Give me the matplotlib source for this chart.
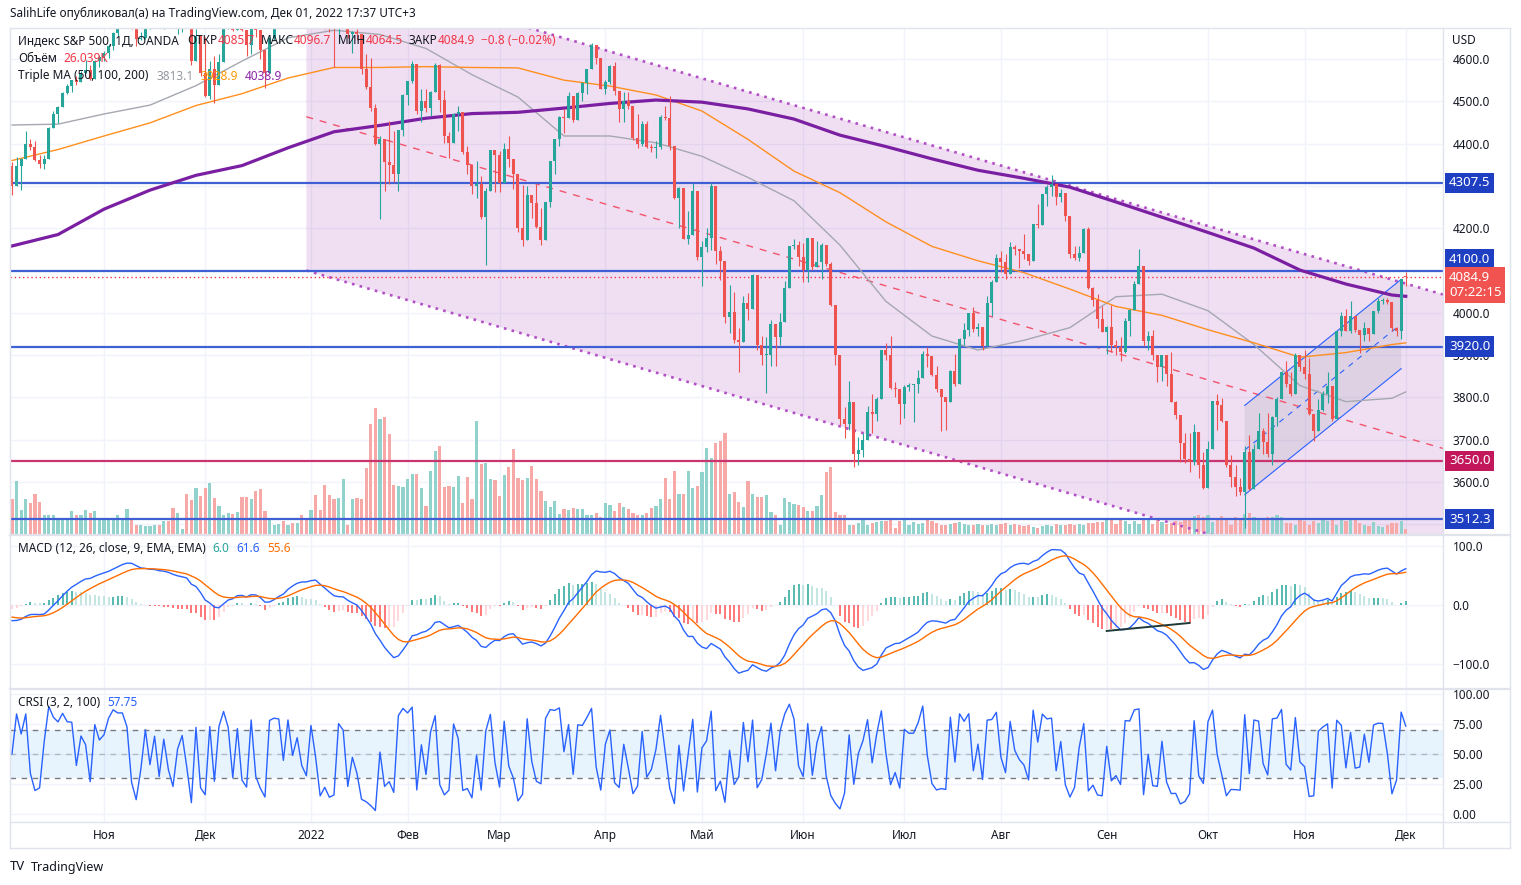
import numpy as np
import pandas as pd
import matplotlib
matplotlib.use("Agg")
import matplotlib.pyplot as plt
from matplotlib.collections import PatchCollection
from matplotlib.patches import Rectangle, Polygon
from matplotlib.lines import Line2D
from matplotlib.ticker import FuncFormatter
from matplotlib.transforms import blended_transform_factory

plt.rcParams['font.family'] = ['Noto Sans', 'DejaVu Sans']

W, H = 1521, 885

# S&P 500 (OANDA CFD), daily bars 2021-10-04 .. 2022-12-01, one line per month
closes = [
    4300, 4346, 4364, 4400, 4391, 4361, 4351, 4364, 4438, 4471, 4487, 4520, 4536, 4550, 4545, 4567, 4575, 4552, 4596, 4605,
    4614, 4631, 4661, 4680, 4698, 4702, 4685, 4647, 4649, 4683, 4683, 4701, 4689, 4705, 4698, 4683, 4691, 4702, 4700, 4595, 4655, 4567,
    4513, 4577, 4538, 4592, 4687, 4701, 4668, 4712, 4669, 4634, 4710, 4669, 4621, 4568, 4649, 4697, 4726, 4725, 4791, 4786, 4793, 4779, 4766,
    4797, 4794, 4701, 4696, 4677, 4670, 4713, 4726, 4659, 4663, 4660, 4577, 4533, 4483, 4398, 4410, 4357, 4350, 4327, 4432, 4516,
    4547, 4589, 4477, 4500, 4484, 4522, 4587, 4504, 4419, 4402, 4471, 4475, 4380, 4349, 4300, 4305, 4226, 4289, 4385, 4374,
    4306, 4387, 4364, 4329, 4201, 4171, 4278, 4260, 4204, 4173, 4263, 4358, 4412, 4463, 4461, 4512, 4456, 4520, 4543, 4576, 4632, 4603, 4530,
    4546, 4583, 4525, 4481, 4500, 4488, 4413, 4398, 4447, 4393, 4390, 4392, 4462, 4460, 4394, 4272, 4296, 4175, 4184, 4288, 4132,
    4155, 4176, 4300, 4147, 4123, 3991, 4001, 3935, 3930, 4024, 4008, 4089, 3924, 3901, 3901, 3974, 3942, 3979, 4058, 4158, 4160, 4132,
    4101, 4177, 4109, 4121, 4161, 4116, 4018, 3901, 3750, 3736, 3790, 3667, 3675, 3700, 3765, 3760, 3796, 3912, 3900, 3822, 3819, 3785,
    3825, 3830, 3831, 3845, 3903, 3899, 3854, 3819, 3802, 3790, 3863, 3831, 3937, 3960, 3999, 3962, 3967, 3921, 4024, 4072, 4130,
    4119, 4091, 4155, 4152, 4145, 4140, 4123, 4210, 4207, 4280, 4297, 4305, 4274, 4284, 4228, 4138, 4129, 4141, 4199, 4058, 4031, 3986, 3955,
    3967, 3924, 3920, 3908, 3980, 4006, 4067, 4110, 3933, 3946, 3901, 3873, 3900, 3856, 3790, 3758, 3693, 3655, 3647, 3719, 3641, 3586,
    3678, 3791, 3783, 3745, 3640, 3612, 3589, 3577, 3670, 3583, 3678, 3720, 3695, 3666, 3753, 3797, 3859, 3831, 3807, 3901, 3872,
    3856, 3760, 3720, 3771, 3807, 3828, 3749, 3956, 3993, 3957, 3992, 3959, 3947, 3965, 3950, 4004, 4027, 4030, 4026, 3964, 3958, 4080,
    4084.9,
]
highs = [
    4356, 4369, 4365, 4429, 4412, 4407, 4374, 4372, 4440, 4476, 4488, 4521, 4540, 4551, 4560, 4572, 4598, 4585, 4598, 4609,
    4620, 4636, 4664, 4683, 4718, 4714, 4708, 4685, 4664, 4684, 4698, 4714, 4705, 4708, 4717, 4744, 4697, 4702, 4705, 4660, 4672, 4647,
    4652, 4595, 4608, 4612, 4695, 4705, 4705, 4713, 4710, 4660, 4712, 4743, 4665, 4582, 4651, 4698, 4741, 4730, 4792, 4808, 4805, 4808, 4787,
    4797, 4819, 4797, 4725, 4707, 4673, 4714, 4749, 4744, 4666, 4670, 4611, 4611, 4602, 4494, 4418, 4412, 4454, 4429, 4432, 4517,
    4547, 4595, 4542, 4529, 4528, 4524, 4591, 4588, 4527, 4427, 4473, 4490, 4462, 4394, 4350, 4358, 4324, 4295, 4386, 4385,
    4382, 4401, 4417, 4353, 4325, 4301, 4299, 4275, 4304, 4247, 4263, 4359, 4412, 4465, 4482, 4521, 4500, 4521, 4546, 4576, 4637, 4628, 4603,
    4550, 4587, 4593, 4503, 4521, 4521, 4464, 4471, 4453, 4453, 4400, 4406, 4468, 4489, 4512, 4386, 4298, 4278, 4240, 4308, 4270,
    4169, 4200, 4307, 4271, 4158, 4082, 4066, 4049, 3964, 4039, 4047, 4091, 4062, 3945, 3943, 3982, 3955, 3999, 4076, 4158, 4175, 4169,
    4166, 4177, 4143, 4169, 4164, 4150, 4119, 3975, 3838, 3778, 3838, 3733, 3707, 3716, 3780, 3808, 3802, 3913, 3928, 3946, 3836, 3818,
    3829, 3835, 3832, 3864, 3910, 3919, 3878, 3874, 3817, 3796, 3864, 3903, 3940, 3975, 4000, 4013, 3975, 3954, 4039, 4078, 4140,
    4145, 4140, 4167, 4161, 4151, 4186, 4138, 4211, 4257, 4280, 4301, 4325, 4303, 4292, 4258, 4195, 4159, 4157, 4200, 4204, 4062, 4044, 4015,
    3970, 4019, 3935, 3942, 3987, 4010, 4076, 4150, 4062, 3956, 3959, 3880, 3901, 3878, 3907, 3791, 3727, 3716, 3716, 3736, 3688, 3672,
    3698, 3791, 3807, 3798, 3710, 3665, 3641, 3609, 3685, 3712, 3689, 3762, 3728, 3762, 3755, 3800, 3862, 3886, 3860, 3905, 3893,
    3911, 3894, 3750, 3796, 3814, 3859, 3818, 3956, 4002, 4009, 4028, 3983, 3954, 3979, 3962, 4005, 4034, 4036, 4035, 4012, 3966, 4080,
    4096.7,
]
lows = [
    4278, 4304, 4290, 4364, 4386, 4360, 4343, 4339, 4368, 4440, 4448, 4490, 4518, 4521, 4538, 4547, 4569, 4551, 4563, 4581,
    4595, 4603, 4621, 4654, 4681, 4694, 4670, 4630, 4646, 4648, 4672, 4680, 4685, 4672, 4690, 4680, 4659, 4664, 4690, 4586, 4625, 4560,
    4510, 4505, 4495, 4541, 4620, 4671, 4666, 4670, 4667, 4606, 4611, 4651, 4600, 4531, 4583, 4645, 4700, 4720, 4733, 4780, 4778, 4775, 4765,
    4759, 4774, 4699, 4671, 4663, 4582, 4638, 4716, 4650, 4614, 4645, 4565, 4530, 4477, 4396, 4222, 4287, 4305, 4310, 4288, 4419,
    4492, 4544, 4470, 4452, 4474, 4466, 4547, 4475, 4402, 4365, 4429, 4429, 4376, 4328, 4280, 4271, 4222, 4114, 4287, 4286,
    4286, 4306, 4345, 4293, 4190, 4157, 4223, 4224, 4201, 4161, 4190, 4251, 4329, 4394, 4425, 4466, 4452, 4465, 4501, 4517, 4589, 4588, 4530,
    4517, 4540, 4514, 4450, 4451, 4481, 4408, 4390, 4395, 4390, 4380, 4367, 4387, 4455, 4385, 4268, 4200, 4175, 4162, 4188, 4125,
    4063, 4144, 4148, 4116, 4077, 3975, 3952, 3928, 3859, 3940, 3984, 4033, 3911, 3877, 3810, 3875, 3875, 3925, 3985, 4077, 4150, 4110,
    4074, 4074, 4101, 4110, 4080, 4110, 4017, 3876, 3734, 3705, 3723, 3636, 3640, 3660, 3700, 3717, 3744, 3800, 3889, 3820, 3800, 3738,
    3752, 3815, 3742, 3810, 3849, 3873, 3850, 3813, 3721, 3722, 3817, 3826, 3860, 3924, 3946, 3955, 3944, 3911, 3941, 3992, 4080,
    4097, 4079, 4108, 4136, 4107, 4128, 4112, 4177, 4201, 4219, 4253, 4277, 4254, 4262, 4218, 4129, 4124, 4122, 4147, 4057, 4017, 3965, 3954,
    3903, 3907, 3900, 3886, 3906, 3944, 4023, 4083, 3921, 3913, 3888, 3837, 3839, 3828, 3789, 3750, 3647, 3645, 3624, 3640, 3610, 3584,
    3587, 3694, 3723, 3742, 3636, 3589, 3568, 3570, 3491, 3580, 3644, 3687, 3667, 3659, 3640, 3733, 3799, 3824, 3803, 3808, 3863,
    3843, 3758, 3698, 3721, 3767, 3787, 3745, 3749, 3944, 3956, 3953, 3955, 3906, 3933, 3933, 3956, 3999, 4022, 4020, 3956, 3944, 3938,
    4064.5,
]
first_open = 4348
last_open = 4085.7

# volume, thousands
volumes = [
    175, 265, 120, 175, 155, 200, 160, 95, 95, 95, 75, 75, 80, 115, 95, 95, 120, 105, 115, 80,
    80, 75, 75, 95, 80, 125, 80, 45, 45, 40, 40, 45, 45, 65, 65, 130, 105, 25, 200, 170,
    230, 190, 230, 255, 180, 140, 95, 105, 100, 110, 185, 185,
    175, 215, 225, 115, 80, 45, 50, 65, 45, 55, 55, 95, 75, 120, 195, 120, 245, 195, 175, 180,
    275, 45, 175, 180, 175, 330, 550, 630, 575, 585, 500, 245, 240, 235, 275, 300, 300, 230, 140, 315,
    415, 440, 235, 240, 235, 290, 155, 285, 175, 565, 350,
    355, 275, 270, 190, 295, 335, 425, 280, 270, 280, 340, 275, 215, 165, 135, 165, 100, 125, 120, 130,
    125, 125, 95, 95, 105, 85, 155, 145, 115, 155, 135, 125, 105, 95, 95, 105, 130, 140, 175, 280,
    175, 315, 200, 200, 315, 230, 240, 310, 430, 380, 455, 465,
    505, 200, 210, 160, 135, 265, 200, 185, 185, 195, 110, 95, 45, 180, 160, 150, 145, 135, 115, 115,
    140, 195, 310, 335, 110, 95, 95, 45, 45, 55, 75, 45, 55, 60, 65, 65, 75, 30, 65, 75,
    45, 60, 50, 55, 75, 65, 55, 45, 45, 50, 55, 60,
    50, 45, 45, 50, 45, 45, 50, 45, 50, 55, 45, 50, 45, 40, 45, 35, 30, 40, 45, 40,
    50, 45, 45, 50, 45, 50, 45, 55, 55, 60, 60, 75, 70, 50, 70, 65, 50, 65, 50, 75,
    70, 50, 70, 60, 50, 55, 65, 60, 80, 75, 90, 95,
    85, 95, 60, 75, 90, 70, 45, 85, 75, 100, 105, 85, 75, 75, 85, 85, 95, 85, 55, 55,
    45, 75, 65, 45, 65, 55, 70, 65, 75, 45, 75, 65, 75, 70, 55, 45, 40, 60, 40, 35,
    45, 55, 55, 65, 26,
]

# Triple MA every 10th session (and the last one)
ma_sessions = list(range(0, 301, 10)) + [303]
ma50 = [4444, 4446, 4470, 4491, 4537, 4595, 4650, 4668, 4658, 4625, 4563, 4510, 4418, 4418, 4402, 4370,
        4320, 4265, 4160, 4027, 3945, 3912, 3935, 3965, 4038, 4044, 4005, 3925, 3828, 3790, 3798, 3813]
ma100 = [4360, 4386, 4418, 4449, 4490, 4518, 4555, 4580, 4580, 4582, 4580, 4579, 4550, 4536, 4515, 4477,
         4410, 4335, 4284, 4215, 4157, 4123, 4095, 4056, 4015, 3994, 3960, 3929, 3895, 3906, 3925, 3929]
ma200 = [4158, 4185, 4245, 4290, 4325, 4348, 4390, 4428, 4443, 4460, 4471, 4474, 4484, 4495, 4503, 4498,
         4482, 4458, 4420, 4393, 4364, 4337, 4318, 4297, 4262, 4226, 4190, 4153, 4101, 4068, 4042, 4039]

levels_blue = [4307.5, 4100.0, 3920.0, 3512.3]
level_red = 3650.0
# scale labels TradingView hides behind the level tags
hidden_ticks = [3500, 4100, 4300]

chan_dates = ['2021-12-31', '2022-12-01']
chan_upper = [4827, 4069]
chan_lower = [4100, 3341]

small_dates = ['2022-10-13', '2022-11-30']
small_upper = [3781, 4079]
small_lower = [3570, 3868]

macd_line_dates = ['2022-09-01', '2022-09-27']
macd_line_vals = [-44, -30.5]
ema26_seed, macd_seed, signal_seed = 4400, -22, -19

month_keys = ['2021-11', '2021-12', '2022-01', '2022-02', '2022-03', '2022-04', '2022-05',
              '2022-06', '2022-07', '2022-08', '2022-09', '2022-10', '2022-11', '2022-12']
month_labels = ['Ноя', 'Дек', '2022', 'Фев', 'Мар', 'Апр', 'Май', 'Июн', 'Июл', 'Авг',
                'Сен', 'Окт', 'Ноя', 'Дек']

assert len(closes) == len(highs) == len(lows) == len(volumes), (len(closes), len(highs), len(lows), len(volumes))

# ---- derived series ----
n = len(closes)
dates = pd.bdate_range(end='2022-12-01', periods=n)
pos = {d.strftime('%Y-%m-%d'): i for i, d in enumerate(dates)}
ym = [d.strftime('%Y-%m') for d in dates]
month_idx = [ym.index(k) for k in month_keys]

x = np.arange(n)
c = np.array(closes, float)
o = np.r_[first_open, c[:-1]]
o[-1] = last_open
hi = np.maximum(np.array(highs, float), np.maximum(o, c))
lo = np.minimum(np.array(lows, float), np.minimum(o, c))
up = c >= o


def ema(vals, length, seed):
    k = 2.0 / (length + 1)
    out = np.empty(len(vals))
    prev = seed
    for i, v in enumerate(vals):
        prev = prev + k * (v - prev)
        out[i] = prev
    return out


def rma(vals, length):
    out = np.empty(len(vals))
    prev = vals[0]
    for i, v in enumerate(vals):
        prev = prev + (v - prev) / length
        out[i] = prev
    return out


def rsi(vals, length):
    d = np.diff(vals, prepend=vals[0])
    au = rma(np.maximum(d, 0), length)
    ad = rma(np.maximum(-d, 0), length)
    tot = au + ad
    return np.where(tot == 0, 50.0, 100.0 * au / np.where(tot == 0, 1, tot))


macd = ema(c, 12, ema26_seed + macd_seed) - ema(c, 26, ema26_seed)
signal = ema(macd, 9, signal_seed)
hist = macd - signal

streak = np.zeros(n)
for i in range(1, n):
    if c[i] > c[i - 1]:
        streak[i] = streak[i - 1] + 1 if streak[i - 1] > 0 else 1
    elif c[i] < c[i - 1]:
        streak[i] = streak[i - 1] - 1 if streak[i - 1] < 0 else -1
roc = np.r_[0, np.diff(c) / c[:-1] * 100]
prank = np.full(n, 50.0)
for i in range(2, n):
    win = roc[max(1, i - 100):i]
    prank[i] = 100.0 * np.sum(win <= roc[i]) / len(win)
crsi = (rsi(c, 3) + rsi(streak, 2) + prank) / 3

# ---- figure ----
UP, DN = '#26a69a', '#ef5350'
GRID = '#f0f3fa'
BORDER = '#e0e3eb'
TXT = '#131722'
XMIN, XMAX = -0.43, 311.1

fig = plt.figure(figsize=(W / 100, H / 100), dpi=100)
fig.patch.set_facecolor('white')


def rect(x0, y0, x1, y1):
    return [x0 / W, 1 - y1 / H, (x1 - x0) / W, (y1 - y0) / H]


ax = fig.add_axes(rect(10, 28, 1443, 534))
ax_macd = fig.add_axes(rect(10, 536, 1443, 688))
ax_rsi = fig.add_axes(rect(10, 690, 1443, 822))

for a in (ax, ax_macd, ax_rsi):
    a.set_xlim(XMIN, XMAX)
    a.yaxis.tick_right()
    a.tick_params(axis='y', length=0, pad=7, labelsize=8.5, labelcolor=TXT)
    a.tick_params(axis='x', length=0)
    a.set_xticks(month_idx)
    a.grid(True, color=GRID, lw=1)
    a.set_axisbelow(True)
    for s in a.spines.values():
        s.set_visible(False)
ax.set_xticklabels([])
ax_macd.set_xticklabels([])

# main pane
ax.set_ylim(3477.1, 4673.3)
ax.set_yticks(np.arange(3500, 4700, 100))
ax.yaxis.set_major_formatter(FuncFormatter(
    lambda v, p: '' if round(v) in hidden_ticks else f'{v:.1f}'))

vtrans = blended_transform_factory(ax.transData, ax.transAxes)
vbars = [Rectangle((xi - 0.35, 0), 0.7, v / 2525) for xi, v in zip(x, volumes)]
ax.add_collection(PatchCollection(vbars, facecolors=np.where(up, '#92d2cc', '#f7a9a7'),
                                  edgecolors='none', transform=vtrans, zorder=1))

i0, i1 = pos[chan_dates[0]], pos[chan_dates[1]]


def extend(p0, p1):
    return p0, p1 + (p1 - p0) / (i1 - i0) * (XMAX - i1)


u0, u1 = extend(*chan_upper)
l0, l1 = extend(*chan_lower)
ax.add_patch(Polygon([[i0, u0], [XMAX, u1], [XMAX, l1], [i0, l0]], closed=True,
                     fc='#9c27b0', alpha=0.15, ec='none', zorder=0.9))
for p0, p1 in ((u0, u1), (l0, l1)):
    ax.plot([i0, XMAX], [p0, p1], ls=(0, (1, 2)), color='#b34fc6', lw=1.9, zorder=2)
ax.plot([i0, XMAX], [(u0 + l0) / 2, (u1 + l1) / 2], ls=(0, (5, 5)), color='#f2546c', lw=1, zorder=2)

j0, j1 = pos[small_dates[0]], pos[small_dates[1]]
ax.add_patch(Polygon([[j0, small_upper[0]], [j1, small_upper[1]], [j1, small_lower[1]], [j0, small_lower[0]]],
                     closed=True, fc='#9598a1', alpha=0.18, ec='none', zorder=1.1))
ax.plot([j0, j1], small_upper, color='#2962ff', lw=0.8, zorder=2)
ax.plot([j0, j1], small_lower, color='#2962ff', lw=0.8, zorder=2)
ax.plot([j0, j1], [(small_upper[0] + small_lower[0]) / 2, (small_upper[1] + small_lower[1]) / 2],
        color='#2962ff', lw=0.8, ls=(0, (5, 5)), zorder=2)

for lv in levels_blue:
    ax.axhline(lv, color='#3f5fd5', lw=1.6, zorder=2.2)
ax.axhline(level_red, color='#c8356f', lw=1.6, zorder=2.2)
ax.axhline(c[-1], color='#f23645', lw=1, ls=(0, (1, 2)), zorder=2.2)

ax.plot(ma_sessions, ma50, color='#a5a8b0', lw=1, zorder=2.5)
ax.plot(ma_sessions, ma100, color='#ff8f1f', lw=1, zorder=2.5)
ax.plot(ma_sessions, ma200, color='#7b1fa2', lw=2.3, zorder=2.5)

col = np.where(up, UP, DN)
ax.vlines(x, lo, hi, colors=col, lw=0.8, zorder=3)
bodies = [Rectangle((xi - 0.33, min(oi, ci)), 0.66, max(abs(ci - oi), 2.4)) for xi, oi, ci in zip(x, o, c)]
ax.add_collection(PatchCollection(bodies, facecolors=col, edgecolors='none', zorder=4))


def tag(axis, val, txt, fc, dy=0, va='center'):
    axis.annotate(txt, xy=(1.0, val), xycoords=blended_transform_factory(axis.transAxes, axis.transData),
                  xytext=(6, dy), textcoords='offset pixels', ha='left', va=va, color='white',
                  fontsize=9.5, fontweight='bold', linespacing=1.2, annotation_clip=False, zorder=20,
                  bbox=dict(boxstyle='square,pad=0.28', fc=fc, ec='none'))


# the 4100 tag is pushed up by TradingView so it clears the live price tag
tag_shift = {4100.0: 11}
for lv in levels_blue:
    tag(ax, lv, f'{lv:.1f}', '#1f3fc2', dy=tag_shift.get(lv, 0))
tag(ax, level_red, f'{level_red:.1f}', '#c2185b')
tag(ax, c[-1], f'{c[-1]:.1f}\n07:22:15', '#f05350', dy=6, va='top')

# MACD pane
ax_macd.set_ylim(-140.7, 116.9)
ax_macd.set_yticks([-100, 0, 100])
ax_macd.yaxis.set_major_formatter(FuncFormatter(lambda v, p: f'{v:.1f}'.replace('-', '\u2212')))
prev = np.r_[hist[0], hist[:-1]]
hcol = np.where(hist >= 0, np.where(hist > prev, '#26a69a', '#b2dfdb'),
                np.where(hist < prev, '#ff5252', '#ffcdd2'))
ax_macd.vlines(x, 0, hist, colors=hcol, lw=1.1, zorder=2)
ax_macd.plot(x, macd, color='#2962ff', lw=1, zorder=3)
ax_macd.plot(x, signal, color='#ff6d00', lw=1, zorder=3)
ax_macd.plot([pos[d] for d in macd_line_dates], macd_line_vals, color='#1f3a36', lw=1.4, zorder=4)

# CRSI pane
ax_rsi.set_ylim(-6.67, 103.3)
ax_rsi.set_yticks([0, 25, 50, 75, 100])
ax_rsi.yaxis.set_major_formatter(FuncFormatter(lambda v, p: f'{v:.2f}'))
ax_rsi.axhspan(30, 70, color='#2196f3', alpha=0.1, lw=0, zorder=1)
ax_rsi.axhline(70, color='#787b86', lw=1, ls=(0, (4, 4)), zorder=2)
ax_rsi.axhline(50, color='#9598a1', lw=1, ls=(0, (4, 4)), alpha=0.6, zorder=2)
ax_rsi.axhline(30, color='#787b86', lw=1, ls=(0, (4, 4)), zorder=2)
ax_rsi.plot(x, crsi, color='#2962ff', lw=1, zorder=3)
ax_rsi.set_xticklabels(month_labels)
ax_rsi.tick_params(axis='x', pad=5, labelsize=8.5, labelcolor=TXT)
for t in ax_rsi.get_xticklabels():
    if t.get_text() == '2022':
        t.set_fontweight('bold')


# frame and pane separators
def hline(y, x0=10, x1=1510, lw=1.0):
    fig.add_artist(Line2D([x0 / W, x1 / W], [1 - y / H] * 2, transform=fig.transFigure, color=BORDER, lw=lw))


def vline(xp, y0=28, y1=848, lw=1.0):
    fig.add_artist(Line2D([xp / W] * 2, [1 - y0 / H, 1 - y1 / H], transform=fig.transFigure, color=BORDER, lw=lw))


hline(28)
hline(848)
hline(822)
hline(535, lw=1.6)
hline(689, lw=1.6)
vline(10)
vline(1510)
vline(1443, y1=848)

# texts
renderer = fig.canvas.get_renderer()


def legend_line(x_px, y_px, parts, size=8.5, weight='normal'):
    xp = x_px
    for s, colr, gap in parts:
        t = fig.text(xp / W, 1 - y_px / H, s, color=colr, fontsize=size, ha='left', va='center',
                     fontweight=weight, zorder=30)
        xp += t.get_window_extent(renderer).width + gap


RED = '#f23645'
legend_line(10, 13, [('SalihLife опубликовал(а) на TradingView.com, Дек 01, 2022 17:37 UTC+3', TXT, 0)])
legend_line(18, 41, [('Индекс S&P 500, 1Д, OANDA', TXT, 9), ('ОТКР', TXT, 0), ('4085.7', RED, 6),
                     ('МАКС', TXT, 0), ('4096.7', RED, 6), ('МИН', TXT, 0), ('4064.5', RED, 6),
                     ('ЗАКР', TXT, 0), ('4084.9', RED, 6), ('\u22120.8 (\u22120.02%)', RED, 0)])
legend_line(18, 59, [('Объём', TXT, 7), ('26.039K', RED, 0)])
legend_line(18, 76, [('Triple MA (50, 100, 200)', TXT, 8), ('3813.1', '#9598a1', 7),
                     ('3928.9', '#ff9800', 7), ('4038.9', '#8e24aa', 0)])
legend_line(18, 548, [('MACD (12, 26, close, 9, EMA, EMA)', TXT, 7), ('6.0', '#26a69a', 7),
                      ('61.6', '#2962ff', 7), ('55.6', '#ff6d00', 0)])
legend_line(18, 703, [('CRSI (3, 2, 100)', TXT, 7), ('57.75', '#2962ff', 0)])
legend_line(1452, 40, [('USD', TXT, 0)])
legend_line(10, 867, [('TV', TXT, 3)], size=9.5, weight='bold')
legend_line(31, 867, [('TradingView', TXT, 0)], size=9)

fig.savefig('out.png', dpi=100)
